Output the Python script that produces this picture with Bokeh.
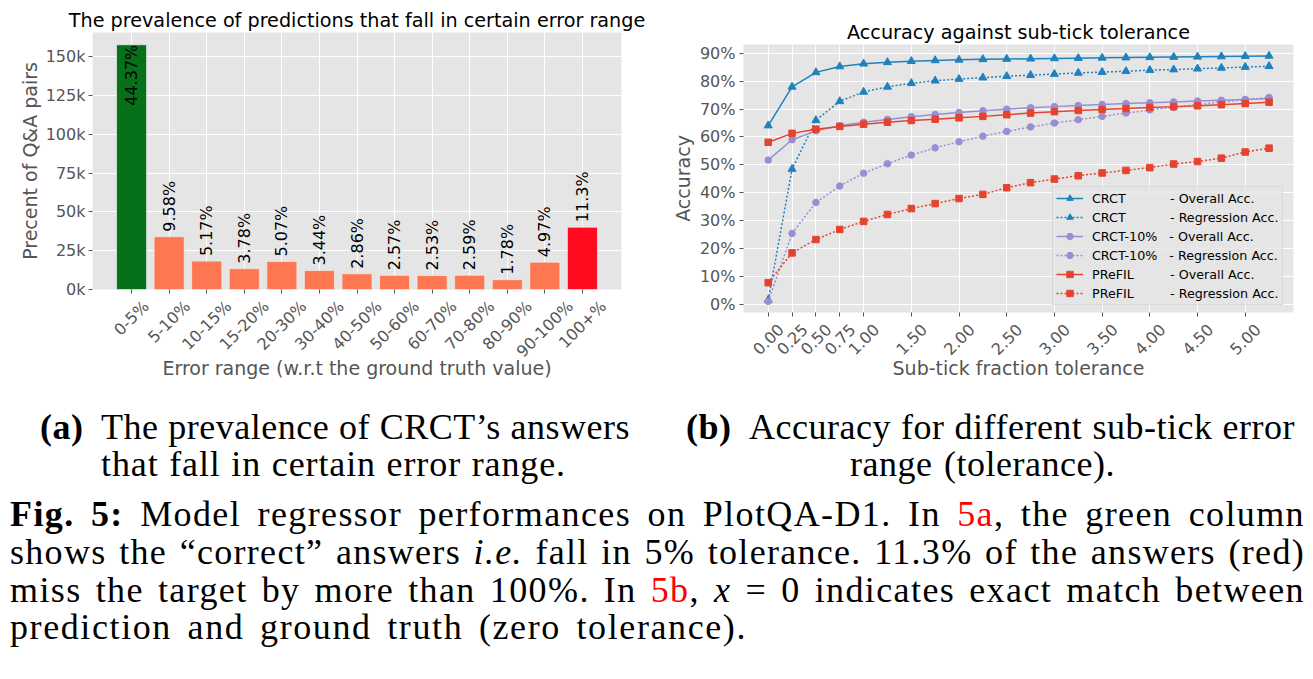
from math import pi, sqrt
from bokeh.plotting import figure
from bokeh.models import (Range1d, FixedTicker, PrintfTickFormatter, Legend, LegendItem, Div,
                          LinearAxis, CustomJSTickFormatter)
from bokeh.embed import file_html
from bokeh.resources import INLINE
from bokeh.core.properties import value

# ---------------- data: chart (a) ----------------
error_ranges = ["0-5%", "5-10%", "10-15%", "15-20%", "20-30%", "30-40%", "40-50%",
                "50-60%", "60-70%", "70-80%", "80-90%", "90-100%", "100+%"]
pair_counts_k = [157.6, 34.0, 18.3, 13.4, 18.0, 12.2, 10.1, 9.1, 9.0, 9.2, 6.3, 17.6, 40.1]
share_labels = ["44.37%", "9.58%", "5.17%", "3.78%", "5.07%", "3.44%", "2.86%",
                "2.57%", "2.53%", "2.59%", "1.78%", "4.97%", "11.3%"]
count_ticks = [0, 25, 50, 75, 100, 125, 150]

# ---------------- data: chart (b) ----------------
tolerance = [0.0, 0.25, 0.5, 0.75, 1.0, 1.25, 1.5, 1.75, 2.0, 2.25, 2.5, 2.75,
             3.0, 3.25, 3.5, 3.75, 4.0, 4.25, 4.5, 4.75, 5.0, 5.25]
tolerance_ticks = [0.0, 0.25, 0.5, 0.75, 1.0, 1.5, 2.0, 2.5, 3.0, 3.5, 4.0, 4.5, 5.0]
accuracy_ticks = [0, 10, 20, 30, 40, 50, 60, 70, 80, 90]

crct_overall = [64.1, 78.0, 83.2, 85.3, 86.3, 86.8, 87.2, 87.5, 87.7, 87.9, 88.0,
                88.1, 88.2, 88.3, 88.4, 88.5, 88.6, 88.7, 88.8, 88.9, 89.0, 89.1]
crct_regression = [1.5, 48.5, 66.0, 72.8, 76.2, 78.0, 79.3, 80.2, 80.8, 81.3, 81.8,
                   82.2, 82.6, 83.0, 83.3, 83.6, 84.0, 84.2, 84.5, 84.8, 85.1, 85.4]
crct10_overall = [51.7, 59.0, 62.2, 64.0, 65.3, 66.3, 67.3, 68.1, 68.8, 69.4, 70.0,
                  70.5, 70.9, 71.3, 71.7, 72.0, 72.3, 72.6, 72.9, 73.2, 73.5, 73.7]
crct10_regression = [1.0, 25.4, 36.5, 42.4, 47.0, 50.4, 53.5, 56.1, 58.3, 60.3, 62.0,
                     63.6, 65.0, 66.2, 67.4, 68.6, 69.7, 70.6, 71.6, 72.6, 73.4, 74.2]
prefil_overall = [58.1, 61.3, 62.8, 63.8, 64.6, 65.3, 65.9, 66.4, 66.9, 67.4, 68.0,
                  68.6, 69.1, 69.5, 69.9, 70.2, 70.6, 70.9, 71.2, 71.6, 72.0, 72.5]
prefil_regression = [7.7, 18.4, 23.2, 26.8, 29.7, 32.2, 34.3, 36.1, 37.9, 39.4, 41.8,
                     43.6, 44.9, 46.1, 47.1, 48.0, 49.0, 50.3, 51.2, 52.4, 54.6, 56.0]

model_names = ["CRCT", "CRCT", "CRCT-10%", "CRCT-10%", "PReFIL", "PReFIL"]
metric_names = ["- Overall Acc.", "- Regression Acc.", "- Overall Acc.",
                "- Regression Acc.", "- Overall Acc.", "- Regression Acc."]

# ---------------- styles ----------------
SANS = "DejaVu Sans"
GRAY = "#555555"
NB = "\u00a0"
bar_colors = ["#067119"] + ["#ff7751"] * 11 + ["#ff0a1e"]
BLUE, PURPLE, RED = "#1f82bd", "#988ed5", "#e5432f"
TICK_PX = 16
# approximate DejaVu Sans advance widths (em), used to centre the rotated tick labels
ADV = {c: 0.636 for c in "0123456789"}
ADV.update({"-": 0.361, "%": 0.950, "+": 0.838, ".": 0.318})


def style_axis(ax):
    ax.axis_line_color = None
    ax.major_tick_line_color = GRAY
    ax.major_tick_out = 4
    ax.major_tick_in = 0
    ax.minor_tick_line_color = None
    ax.major_label_text_font = SANS
    ax.major_label_text_font_size = f"{TICK_PX}px"
    ax.major_label_text_color = GRAY
    ax.axis_label_text_font = SANS
    ax.axis_label_text_font_size = "19px"
    ax.axis_label_text_color = GRAY
    ax.axis_label_text_font_style = "normal"


def style(p):
    p.background_fill_color = "#e5e5e5"
    p.border_fill_color = "white"
    p.outline_line_color = None
    p.grid.grid_line_color = "white"
    p.grid.grid_line_width = 1
    for ax in p.axis:
        style_axis(ax)
    p.title.text_font = SANS
    p.title.text_font_size = "19.2px"
    p.title.text_font_style = "normal"
    p.title.text_color = "black"
    p.title.align = "center"


def rotated_x_labels(p, ticks, texts, px_per_unit, axis_label, label_standoff):
    """matplotlib-style rotated labels: each label's box is centred on its tick."""
    main = p.xaxis[0]
    main.ticker = FixedTicker(ticks=ticks)
    main.formatter = CustomJSTickFormatter(code="return ''")
    main.major_label_standoff = 0
    shifted = [t + TICK_PX * sum(ADV[c] for c in s) / (2 * sqrt(2)) / px_per_unit
               for t, s in zip(ticks, texts)]
    ax = LinearAxis(ticker=FixedTicker(ticks=shifted),
                    formatter=CustomJSTickFormatter(args=dict(labels=texts),
                                                    code="return labels[index]"))
    style_axis(ax)
    ax.major_tick_line_color = None
    ax.major_tick_out = 0
    ax.major_label_orientation = pi / 4
    ax.major_label_standoff = 10
    ax.axis_label = axis_label
    ax.axis_label_standoff = label_standoff
    p.add_layout(ax, "below")


# ---------------- chart (a) ----------------
n = len(error_ranges)
pos = list(range(n))
xa0, xa1 = -1.04, n + 0.04
pa = figure(width=660, height=395,
            min_border_left=92, min_border_right=39, min_border_top=32, min_border_bottom=106,
            x_range=Range1d(xa0, xa1), y_range=Range1d(0, max(pair_counts_k) * 1.05),
            title="The prevalence of predictions that fall in certain error range",
            toolbar_location=None, output_backend="svg")
style(pa)
pa.title.standoff = 2
pa.vbar(x=pos, top=pair_counts_k, width=0.8, fill_color=bar_colors,
        line_color="#eeeeee", line_width=0.7)
top_i = pair_counts_k.index(max(pair_counts_k))
others = [i for i in pos if i != top_i]
pa.text(x=others, y=[pair_counts_k[i] for i in others], text=[share_labels[i] for i in others],
        angle=pi / 2, text_align="left", text_baseline="middle", y_offset=-5,
        text_font=value(SANS), text_font_size="16px", text_color="black")
pa.text(x=[top_i], y=[pair_counts_k[top_i]], text=[share_labels[top_i]],
        angle=pi / 2, text_align="right", text_baseline="middle", y_offset=0,
        text_font=value(SANS), text_font_size="16px", text_color="black")
rotated_x_labels(pa, pos, error_ranges, 529 / (xa1 - xa0),
                 "Error range (w.r.t the ground truth value)", -14)
pa.yaxis.ticker = FixedTicker(ticks=count_ticks)
pa.yaxis.formatter = PrintfTickFormatter(format="%dk")
pa.yaxis.major_label_standoff = 3
pa.yaxis.axis_label = "Precent of Q&A pairs"
pa.yaxis.axis_label_standoff = 2

# ---------------- chart (b) ----------------
xb0, xb1 = -0.259, 5.506
pb = figure(width=645, height=395,
            min_border_left=83, min_border_right=12, min_border_top=44, min_border_bottom=83,
            x_range=Range1d(xb0, xb1), y_range=Range1d(-3.0, 93.2),
            title="Accuracy against sub-tick tolerance",
            toolbar_location=None, output_backend="svg")
style(pb)
pb.title.standoff = 1
series = [
    (crct_overall, BLUE, "solid", "triangle", 8),
    (crct_regression, BLUE, "2 2", "triangle", 8),
    (crct10_overall, PURPLE, "solid", "circle", 6.5),
    (crct10_regression, PURPLE, "2 2", "circle", 6.5),
    (prefil_overall, RED, "solid", "square", 6.5),
    (prefil_regression, RED, "2 2", "square", 6.5),
]
items = []
label_pad = {"CRCT": 11, "CRCT-10%": 3, "PReFIL": 9}
for (vals, col, dash, mk, sz), mname, metric in zip(series, model_names, metric_names):
    lr = pb.line(tolerance, vals, line_color=col, line_width=1.5, line_dash=dash)
    sr = pb.scatter(tolerance, vals, marker=mk, size=sz, fill_color=col, line_color=col)
    items.append(LegendItem(label=mname + NB * label_pad[mname] + metric, renderers=[lr, sr]))
legend = Legend(items=items, location=(309, 7), padding=3, spacing=3,
                label_height=16, glyph_height=16, glyph_width=27, label_standoff=9,
                label_text_font=SANS, label_text_font_size="12.7px", label_text_color="black",
                background_fill_color="#e5e5e5", background_fill_alpha=0.8,
                border_line_color="#cccccc", border_line_width=1, margin=0)
pb.add_layout(legend)
rotated_x_labels(pb, tolerance_ticks, [f"{t:.2f}" for t in tolerance_ticks],
                 550 / (xb1 - xb0), "Sub-tick fraction tolerance", -6)
pb.yaxis.ticker = FixedTicker(ticks=accuracy_ticks)
pb.yaxis.formatter = PrintfTickFormatter(format="%d%%")
pb.yaxis.major_label_standoff = 4
pb.yaxis.axis_label = "Accuracy"
pb.yaxis.axis_label_standoff = 3
pb.styles = {"position": "absolute", "left": "660px", "top": "0px"}

# ---------------- captions ----------------
SERIF = "'Liberation Serif', 'Times New Roman', serif"


def line(left, top, width, html, justify=True, ls=0.5):
    align = "text-align:justify;text-align-last:justify;" if justify else ""
    w = f"width:{width}px;" if width else ""
    return (f'<div style="position:absolute;left:{left}px;top:{top}px;{w}'
            f'letter-spacing:{ls}px;white-space:nowrap;{align}">{html}</div>')


RED_TXT = '<span style="color:#ff0000">{}</span>'
parts = [
    line(40, 13, None, "<b>(a)</b>", False),
    line(101, 13, 529, "The prevalence of CRCT\u2019s answers"),
    line(101, 50, 465, "that fall in certain error range.", ls=0.9),
    line(686, 13, None, "<b>(b)</b>", False),
    line(749, 13, 546, "Accuracy for different sub-tick error"),
    line(850, 50, 265, "range (tolerance)."),
    line(10, 100, 1295, "<b>Fig.\u00a05:</b> Model regressor performances on PlotQA-D1. In "
         + RED_TXT.format("5a") + ", the green column", ls=1.4),
    line(10, 138, 1295, "shows the \u201ccorrect\u201d answers <i>i.e.</i> fall in 5% tolerance. "
         "11.3% of the answers (red)", ls=1.3),
    line(10, 176, 1295, "miss the target by more than 100%. In " + RED_TXT.format("5b")
         + ", <i>x</i> = 0 indicates exact match between", ls=1.4),
    line(10, 213, 737, "prediction and ground truth (zero tolerance).", ls=1.6),
]
html = (f'<div style="position:relative;width:1305px;height:262px;font-family:{SERIF};'
        f'font-size:36px;line-height:38px;color:black">'
        + "".join(parts) + "</div>")
caption = Div(text=html, width=1305, height=262, margin=(0, 0, 0, 0),
              styles={"position": "absolute", "left": "0px", "top": "395px"})

open("out.html", "w").write(file_html([pa, pb, caption], INLINE))
